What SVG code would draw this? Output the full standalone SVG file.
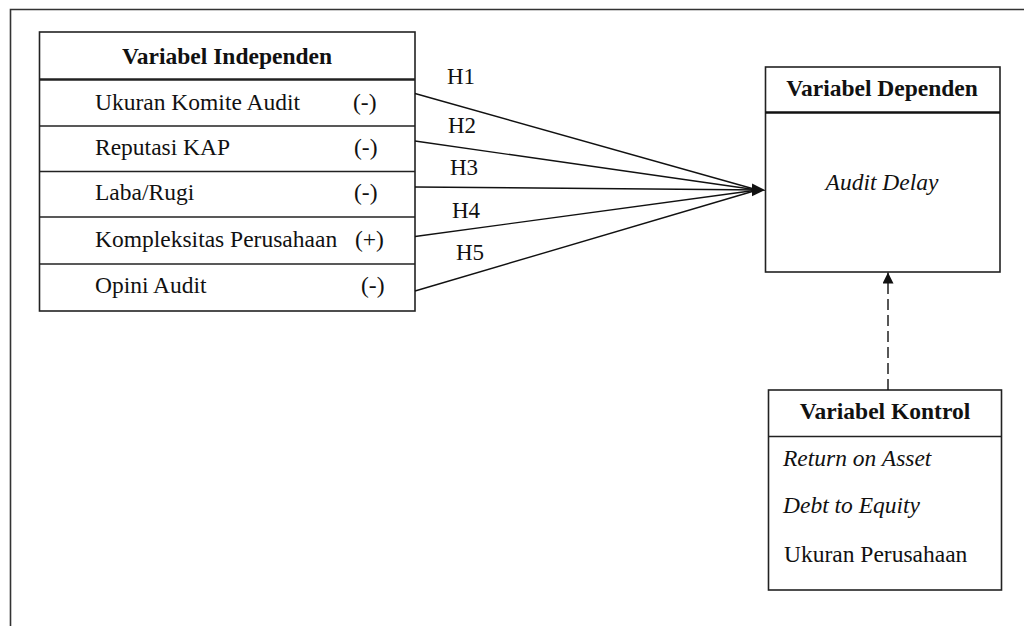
<svg xmlns="http://www.w3.org/2000/svg" width="1024" height="626" viewBox="0 0 1024 626">
<defs>
<marker id="ah" markerWidth="14" markerHeight="14" refX="13" refY="6.5" orient="auto" markerUnits="userSpaceOnUse">
<path d="M0,0 L13,6.5 L0,13 Z" fill="#111"/>
</marker>
<marker id="ahv" markerWidth="12" markerHeight="14" refX="11" refY="5.5" orient="auto" markerUnits="userSpaceOnUse">
<path d="M0,0 L11,5.5 L0,11 Z" fill="#111"/>
</marker>
</defs>
<rect width="1024" height="626" fill="#fff"/>
<g id="frame">
<path d="M10.5,626 L10.5,9.5 L1024,9.5" fill="none" stroke="#333" stroke-width="1.6"/>
</g>
<g id="independen" fill="#111">
<rect x="39.5" y="32" width="375.5" height="279" fill="#fff" stroke="#222" stroke-width="1.6"/>
<g stroke="#222" stroke-width="1.4">
<line x1="39.5" y1="79.5" x2="415" y2="79.5" stroke-width="2.4"/>
<line x1="39.5" y1="126" x2="415" y2="126"/>
<line x1="39.5" y1="171.5" x2="415" y2="171.5"/>
<line x1="39.5" y1="217" x2="415" y2="217"/>
<line x1="39.5" y1="264" x2="415" y2="264"/>
</g>
<text x="227" y="64" text-anchor="middle" font-weight="bold" font-family="Liberation Serif" font-size="23.5">Variabel Independen</text>
<text x="95" y="109.5" font-family="Liberation Serif" font-size="23.5">Ukuran Komite Audit</text>
<text x="353" y="109.5" font-family="Liberation Serif" font-size="23.5">(-)</text>
<text x="95" y="155" font-family="Liberation Serif" font-size="23.5">Reputasi KAP</text>
<text x="354" y="155" font-family="Liberation Serif" font-size="23.5">(-)</text>
<text x="95" y="200" font-family="Liberation Serif" font-size="23.5">Laba/Rugi</text>
<text x="354" y="200" font-family="Liberation Serif" font-size="23.5">(-)</text>
<text x="95" y="246.5" font-family="Liberation Serif" font-size="23.5">Kompleksitas Perusahaan</text>
<text x="355" y="246.5" font-family="Liberation Serif" font-size="23.5">(+)</text>
<text x="95" y="293" font-family="Liberation Serif" font-size="23.5">Opini Audit</text>
<text x="361" y="293" font-family="Liberation Serif" font-size="23.5">(-)</text>
</g>
<g id="dependen" fill="#111">
<rect x="765.5" y="67" width="234.5" height="205" fill="#fff" stroke="#222" stroke-width="1.6"/>
<line x1="765.5" y1="112.5" x2="1000" y2="112.5" stroke="#111" stroke-width="2.4"/>
<text x="882" y="96" text-anchor="middle" font-weight="bold" font-family="Liberation Serif" font-size="23.5">Variabel Dependen</text>
<text x="882" y="190" text-anchor="middle" font-style="italic" font-family="Liberation Serif" font-size="23.5">Audit Delay</text>
</g>
<g id="kontrol" fill="#111">
<rect x="768.5" y="390" width="233" height="200" fill="#fff" stroke="#222" stroke-width="1.6"/>
<line x1="768.5" y1="436.5" x2="1001.5" y2="436.5" stroke="#222" stroke-width="1.4"/>
<text x="885" y="419" text-anchor="middle" font-weight="bold" font-family="Liberation Serif" font-size="23.5">Variabel Kontrol</text>
<text x="783" y="466" font-style="italic" font-family="Liberation Serif" font-size="23.5">Return on Asset</text>
<text x="783" y="513" font-style="italic" font-family="Liberation Serif" font-size="23.5">Debt to Equity</text>
<text x="784" y="562" font-family="Liberation Serif" font-size="23.5">Ukuran Perusahaan</text>
</g>
<g id="connectors" stroke="#111" stroke-width="1.4" fill="none">
<line x1="415" y1="93.5" x2="754" y2="189"/>
<line x1="415" y1="141" x2="754" y2="189.5"/>
<line x1="415" y1="187" x2="765" y2="190" marker-end="url(#ah)"/>
<line x1="415" y1="236.5" x2="754" y2="190.5"/>
<line x1="415" y1="291" x2="754" y2="191"/>
<line x1="888" y1="390" x2="888" y2="272.5" stroke-dasharray="11,5" marker-end="url(#ahv)"/>
<g fill="#111" stroke="none">
<text x="447" y="84" font-family="Liberation Serif" font-size="23">H1</text>
<text x="448" y="133" font-family="Liberation Serif" font-size="23">H2</text>
<text x="450" y="175" font-family="Liberation Serif" font-size="23">H3</text>
<text x="452" y="218" font-family="Liberation Serif" font-size="23">H4</text>
<text x="456" y="260" font-family="Liberation Serif" font-size="23">H5</text>
</g>
</g>
</svg>
